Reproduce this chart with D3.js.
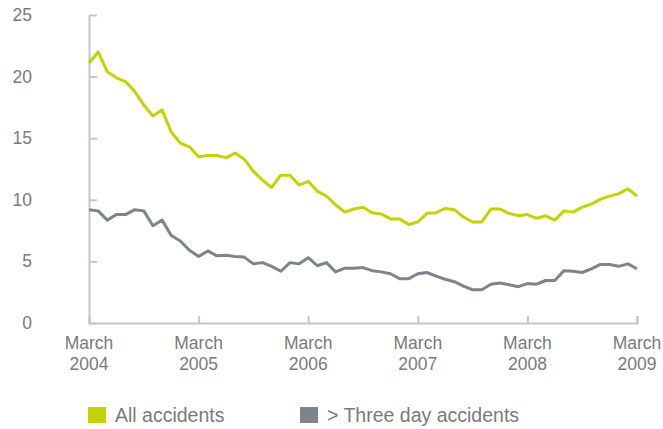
<!DOCTYPE html>
<html>
<head>
<meta charset="utf-8">
<script src="https://cdn.jsdelivr.net/npm/d3@7"></script>
<style>
  body { margin: 0; background: #fff; }
  svg text { font-family: "Liberation Sans", Arial, sans-serif; fill: #7a7a7a; }
  .axis path, .axis line { stroke: #c3c6ca; stroke-width: 2; }
</style>
</head>
<body>
<div id="chart"></div>
<script>
// monthly values, March 2004 to March 2009
const allAccidents = [
  21.1, 22.0, 20.4, 19.9, 19.6, 18.8, 17.7, 16.8, 17.3, 15.5, 14.6, 14.3,
  13.5, 13.6, 13.6, 13.4, 13.8, 13.3, 12.3, 11.6, 11.0, 12.0, 12.0, 11.2,
  11.5, 10.7, 10.3, 9.6, 9.0, 9.25, 9.4, 8.95, 8.85, 8.45, 8.45, 8.0,
  8.2, 8.9, 8.95, 9.3, 9.2, 8.6, 8.2, 8.2, 9.25, 9.25, 8.9, 8.7,
  8.8, 8.5, 8.7, 8.35, 9.1, 9.0, 9.4, 9.65, 10.05, 10.3, 10.5, 10.9,
  10.3
]
const threeDay = [
  9.2, 9.1, 8.35, 8.8, 8.8, 9.2, 9.1, 7.9, 8.35, 7.1, 6.65, 5.9,
  5.4, 5.85, 5.45, 5.5, 5.4, 5.35, 4.8, 4.9, 4.6, 4.2, 4.9, 4.8,
  5.3, 4.65, 4.9, 4.15, 4.45, 4.45, 4.5, 4.25, 4.15, 4.0, 3.6, 3.6,
  4.0, 4.1, 3.8, 3.55, 3.35, 3.0, 2.7, 2.7, 3.15, 3.25, 3.1, 2.95,
  3.2, 3.15, 3.45, 3.45, 4.25, 4.2, 4.1, 4.4, 4.75, 4.75, 4.6, 4.8,
  4.4
]
const xTicks = [0, 12, 24, 36, 48, 60]
const xTickLabels = [['March', '2004'], ['March', '2005'], ['March', '2006'], ['March', '2007'], ['March', '2008'], ['March', '2009']]
const yTicks = [0, 5, 10, 15, 20, 25]
const seriesNames = ['All accidents', '> Three day accidents']
const colors = ['#c2d400', '#7d858b']

const width = 663
const height = 429
const margin = { top: 15, right: 26, bottom: 106, left: 89 }
const chartWidth = width - margin.left - margin.right
const chartHeight = height - margin.top - margin.bottom

const svg = d3.select('#chart').append('svg')
  .attr('width', width).attr('height', height)

const g = svg.append('g')
  .attr('transform', `translate(${margin.left},${margin.top})`)

const x = d3.scaleLinear().domain([0, 60]).range([0, chartWidth])
const y = d3.scaleLinear().domain([0, 25]).range([chartHeight, 0])

const xAxis = d3.axisBottom(x)
  .tickValues(xTicks)
  .tickSizeInner(-7)
  .tickSizeOuter(-7)
  .tickFormat('')

const yAxis = d3.axisLeft(y)
  .tickValues(yTicks)
  .tickSizeInner(-8)
  .tickSizeOuter(0)
  .tickFormat('')

g.append('g')
  .attr('class', 'x axis')
  .attr('transform', `translate(0,${chartHeight})`)
  .call(xAxis)

g.append('g')
  .attr('class', 'y axis')
  .call(yAxis)

// y labels, right aligned well left of the axis
g.selectAll('.ylab')
  .data(yTicks)
  .enter().append('text')
  .attr('class', 'ylab')
  .attr('x', -57)
  .attr('y', (d) => y(d) + 6)
  .attr('text-anchor', 'end')
  .attr('font-size', 17.5)
  .text((d) => d)

// x labels
const xl = g.selectAll('.xlab')
  .data(xTicks)
  .enter().append('text')
  .attr('class', 'xlab')
  .attr('text-anchor', 'middle')
  .attr('font-size', 17.5)
  .attr('transform', (d) => `translate(${x(d)},${chartHeight + 26})`)

xl.append('tspan').attr('x', 0).attr('y', 0).text((d, i) => xTickLabels[i][0])
xl.append('tspan').attr('x', 0).attr('y', 21).text((d, i) => xTickLabels[i][1])

const line = d3.line()
  .x((d, i) => x(i))
  .y((d) => y(d))

;[allAccidents, threeDay].forEach((s, k) => {
  g.append('path')
    .attr('fill', 'none')
    .attr('stroke', colors[k])
    .attr('stroke-width', 3)
    .attr('stroke-linejoin', 'round')
    .attr('d', line(s))
})

// legend
const legendX = [88, 300]
const legend = svg.append('g')
seriesNames.forEach((name, k) => {
  legend.append('rect')
    .attr('x', legendX[k])
    .attr('y', 407)
    .attr('width', 18)
    .attr('height', 16)
    .attr('fill', colors[k])
  legend.append('text')
    .attr('x', legendX[k] + 27)
    .attr('y', 422)
    .attr('font-size', 19.5)
    .text(name)
})
</script>
</body>
</html>
